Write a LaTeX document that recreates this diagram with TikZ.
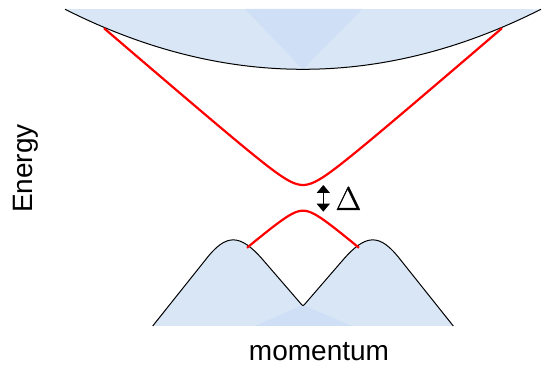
\documentclass[tikz,border=0pt]{standalone}
\usepackage{fontspec}
\setmainfont{Liberation Sans}
\newfontfamily\lmrgap[FakeBold=1]{Latin Modern Roman}
\usetikzlibrary{arrows.meta}
\definecolor{bandfill}{HTML}{D9E6F6}
\definecolor{banddark}{HTML}{CEDFF6}
\begin{document}
\begin{tikzpicture}[x=1pt,y=-1pt,
  bandedge/.style={draw=black, line width=1pt},
  redline/.style={draw=red, line width=2.2pt},
  lbl/.style={font=\fontsize{28}{30}\selectfont, inner sep=0pt},
  gaplbl/.style={font=\lmrgap\fontsize{33}{36}\selectfont, inner sep=0pt}]
\useasboundingbox (0,0) rectangle (542,366);
% upper band
\fill[bandfill] (65,9) -- plot[domain=65:541,samples=120] (\x,{69.3-10.6*((\x-303)/100)^2}) -- cycle;
\fill[banddark] (245,9) -- (362,9) -- (303,69.3) -- cycle;
\draw[bandedge] plot[domain=65:541,samples=120] (\x,{69.3-10.6*((\x-303)/100)^2});
% lower band
\fill[bandfill] (152.7,326) -- (205.5,259.8) .. controls (226.0,233.2) and (239.8,233.2) .. (262.9,259.8)
  -- (299.8,302.5) .. controls (303,306.5) and (303,306.5) .. (306.2,302.5)
  -- (343.1,259.8) .. controls (366.2,233.2) and (380,233.2) .. (400.5,259.8)
  -- (453.3,326) -- cycle;
\fill[banddark] (303,305) -- (352,326) -- (255,326) -- cycle;
\draw[bandedge] (152.7,326) -- (205.5,259.8) .. controls (226.0,233.2) and (239.8,233.2) .. (262.9,259.8)
  -- (299.8,302.5) .. controls (303,306.5) and (303,306.5) .. (306.2,302.5)
  -- (343.1,259.8) .. controls (366.2,233.2) and (380,233.2) .. (400.5,259.8)
  -- (453.3,326);
% red bands
\draw[redline] plot[domain=-199:199,samples=150] ({303+\x},{185-10*(sqrt(2.25+(0.086*\x)^2)-1.5)});
\draw[redline] plot[domain=-56:56,samples=80] ({303+\x},{210.7+10*(sqrt(1.44+(0.085*\x)^2)-1.2)});
% gap arrow
\coordinate (gapTop) at (323.3,185);
\coordinate (gapBot) at (323.3,211.7);
\draw[line width=1.6pt, {Triangle[length=8pt,width=13pt]}-{Triangle[length=8pt,width=13pt]}] (gapTop) -- (gapBot);
\node[gaplbl, anchor=base west] (delta) at (335.5,210) {Δ};
% axis labels
\node[lbl, rotate=90, anchor=base] (energy) at (32,168.5) {Energy};
\node[lbl, anchor=base] (momentum) at (319,361) {momentum};
\end{tikzpicture}
\end{document}
